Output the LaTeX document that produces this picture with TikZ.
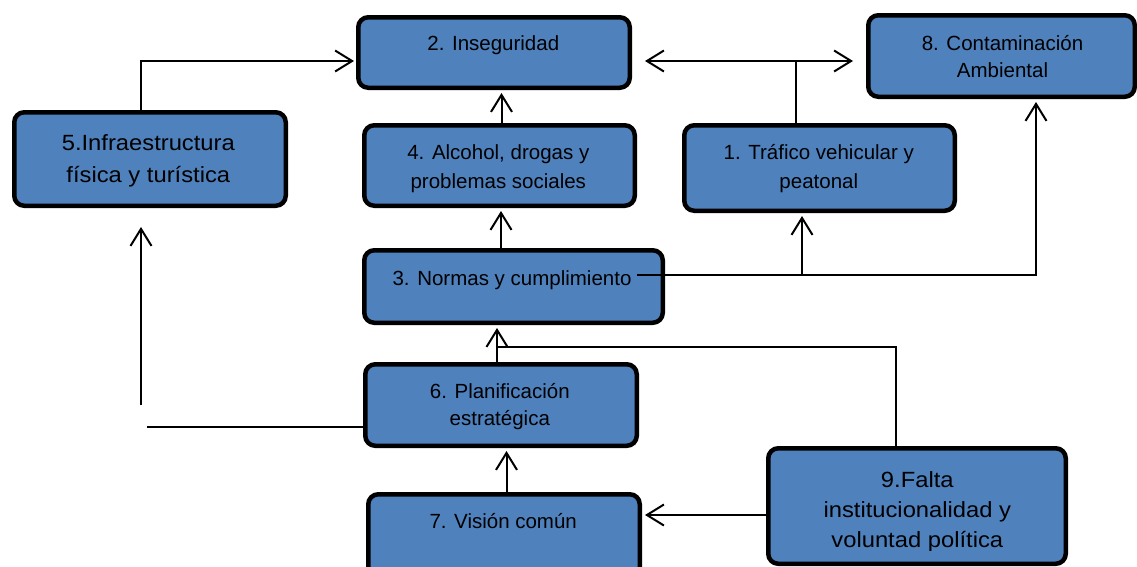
\documentclass[tikz,border=0pt]{standalone}
\usepackage{fontspec}
\setmainfont{Liberation Sans}
\newfontfamily\widefont[FakeStretch=1.08]{Liberation Sans}
\usetikzlibrary{arrows.meta}
\definecolor{boxblue}{HTML}{4F81BD}
\tikzset{
  box/.style={draw=black, line width=4.5pt, rounded corners=10pt, fill=boxblue, inner sep=0pt},
  txt/.style={align=center, inner sep=0pt, text=black, font=\fontsize{20.5}{#1}\selectfont},
  txt/.default=28,
  bigtxt/.style={align=center, inner sep=0pt, text=black, font=\widefont\fontsize{22}{#1}\selectfont},
  bigtxt/.default=30,
  conn/.style={line width=2pt, draw=black},
  arr/.style={conn, -{Straight Barb[length=17pt,width=21pt]}, shorten >=2pt},
  darr/.style={conn, {Straight Barb[length=17pt,width=21pt]}-{Straight Barb[length=17pt,width=21pt]}}
}
\begin{document}
\begin{tikzpicture}[x=1pt,y=-1pt]
\useasboundingbox (0,0) rectangle (1137,566);
% boxes
\node[box, minimum width=271.5pt, minimum height=70.5pt] (n2) at (494,52.5) {};
\node[box, minimum width=266.5pt, minimum height=81.5pt] (n8) at (1001.5,56) {};
\node[box, minimum width=271.5pt, minimum height=93.5pt] (n5) at (150,159) {};
\node[box, minimum width=270.5pt, minimum height=80.5pt] (n4) at (499.5,165.5) {};
\node[box, minimum width=270.5pt, minimum height=85.5pt] (n1) at (819.5,168) {};
\node[box, minimum width=298.5pt, minimum height=72.5pt] (n3) at (513.5,286.5) {};
\node[box, minimum width=271.5pt, minimum height=81.5pt] (n6) at (501,405) {};
\node[box, minimum width=271.5pt, minimum height=93.5pt] (n7) at (504,541) {};
\node[box, minimum width=297.5pt, minimum height=115.5pt] (n9) at (917,506) {};
% texts
\node[txt] (t2) at (493.3,44.4) {\strut 2. Inseguridad};
\node[txt=27] (t8) at (1002.5,58.1) {\strut 8. Contaminación\\\strut Ambiental};
\node[bigtxt=32] (t5) at (148.3,159.6) {\strut 5.Infraestructura\\\strut física y turística};
\node[txt=29] (t4) at (498.3,167.7) {\strut 4. Alcohol, drogas y\\\strut problemas sociales};
\node[txt=29] (t1) at (818.8,167.7) {\strut 1. Tráfico vehicular y\\\strut peatonal};
\node[txt] (t3) at (512,279.4) {\strut 3. Normas y cumplimiento};
\node[txt=27] (t6) at (499.8,406.1) {\strut 6. Planificación\\\strut estratégica};
\node[txt] (t7) at (503.2,522.4) {\strut 7. Visión común};
\begin{scope}
\clip (700,440) rectangle (1100,550);
\node[bigtxt] (t9) at (917.3,511) {\strut 9.Falta\\\strut institucionalidad y\\\strut voluntad política};
\end{scope}
% connectors
\coordinate (j2) at ([yshift=-8.5pt]n2.east);
\draw[arr] ([xshift=-9pt]n5.north) |- ([yshift=-8.5pt]n2.west);
\draw[darr, shorten <=13pt, shorten >=13pt] (j2) -- (j2 -| n8.west);
\draw[conn] ([xshift=-23.5pt]n1.north) -- ([xshift=-23.5pt]n1.north |- j2);
\draw[arr, shorten >=3pt] ([xshift=2pt]n4.north) -- ([xshift=2pt]n4.north |- n2.south);
\draw[arr, shorten >=3pt] ([xshift=-12.5pt]n3.north) -- ([xshift=-12.5pt]n3.north |- n4.south);
\coordinate (s3) at ([xshift=-28pt,yshift=11.5pt]n3.east);
\draw[arr, shorten >=3pt] (s3) -| ([xshift=34.5pt]n8.south);
\draw[arr, shorten >=3pt] ([xshift=-17.5pt]n1.south |- s3) -- ([xshift=-17.5pt]n1.south);
\draw[arr, shorten >=3pt] ([xshift=-4pt]n6.north) -- ([xshift=-4pt]n6.north |- n3.south);
\coordinate (j63) at ([xshift=-4pt,yshift=15pt]n6.north);
\draw[conn, line width=1.5pt] ([xshift=-21pt]n9.north) |- (j63);
\draw[arr, shorten >=3pt] ([xshift=2.5pt]n7.north) -- ([xshift=2.5pt]n7.north |- n6.south);
\draw[arr, shorten >=3pt] ([yshift=-9pt]n9.west) -- ([yshift=-9pt]n9.west -| n7.east);
\coordinate (b1) at ([yshift=-22pt]n6.west -| 147,0);
\draw[conn] ([yshift=-22pt]n6.west) -- (b1);
\coordinate (b2) at (141,405);
\draw[arr, shorten >=19pt] (b2) -- (b2 |- n5.south);
\end{tikzpicture}
\end{document}
